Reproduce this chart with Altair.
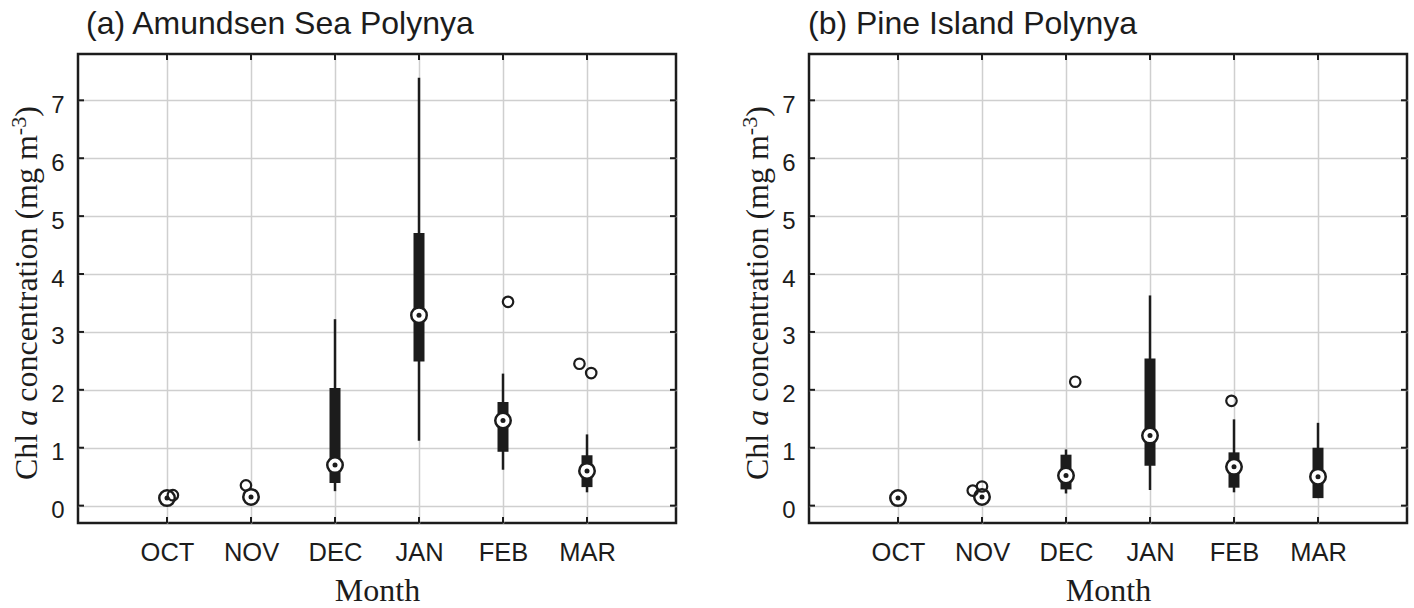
import altair as alt
import pandas as pd

months = ["OCT", "NOV", "DEC", "JAN", "FEB", "MAR"]

# (a) Amundsen Sea Polynya - whisker ends, quartiles and medians (mg m-3)
asp_low = [0.10, 0.11, 0.25, 1.12, 0.62, 0.23]
asp_q1 = [0.11, 0.13, 0.39, 2.49, 0.93, 0.32]
asp_median = [0.13, 0.15, 0.70, 3.29, 1.47, 0.60]
asp_q3 = [0.15, 0.17, 2.03, 4.71, 1.79, 0.87]
asp_high = [0.16, 0.19, 3.22, 7.39, 2.28, 1.23]
asp_out_month = ["OCT", "NOV", "FEB", "MAR", "MAR"]
asp_out_value = [0.18, 0.35, 3.52, 2.45, 2.29]
asp_out_jitter = [0.07, -0.06, 0.06, -0.09, 0.05]

# (b) Pine Island Polynya
pip_low = [0.10, 0.11, 0.21, 0.27, 0.23, 0.13]
pip_q1 = [0.11, 0.12, 0.28, 0.69, 0.31, 0.13]
pip_median = [0.13, 0.15, 0.52, 1.21, 0.67, 0.50]
pip_q3 = [0.15, 0.17, 0.88, 2.54, 0.92, 1.00]
pip_high = [0.16, 0.19, 0.97, 3.63, 1.49, 1.43]
pip_out_month = ["NOV", "NOV", "DEC", "FEB"]
pip_out_value = [0.26, 0.33, 2.14, 1.81]
pip_out_jitter = [-0.11, 0.0, 0.11, -0.03]

y_ticks = [0, 1, 2, 3, 4, 5, 6, 7]

W, H = 598, 469
INK = "#1c1c1c"
GRID = "#cfcfcf"
SANS = "Liberation Sans"
SERIF = "Liberation Serif"

# advance widths of Liberation Serif (per 1000 em), used to chain the y-title pieces
SERIF_W = {"C": 667, "h": 500, "l": 278, " ": 250, "a": 444, "c": 444, "o": 500,
           "n": 500, "e": 444, "t": 278, "r": 333, "i": 278, "(": 333, "m": 778,
           "g": 500, "-": 333, "3": 500, ")": 333}
ITALIC_A = 500

label_expr = "[''," + ",".join(f"'{m}'" for m in months) + "][datum.value]"

x_scale = alt.Scale(domain=[0, 7], nice=False, zero=False)
y_scale = alt.Scale(domain=[-0.3, 7.8], nice=False, zero=False)

x_axis = alt.Axis(values=list(range(1, 7)), labelExpr=label_expr, title="Month",
                  grid=True, gridColor=GRID, gridWidth=1.5, ticks=False, domain=False,
                  labelFont=SANS, labelFontSize=25.5, labelColor=INK, labelPadding=17,
                  titleFont=SERIF, titleFontSize=32, titleFontWeight="normal",
                  titleColor=INK, titlePadding=10)
y_axis = alt.Axis(values=y_ticks, format="d", title=None, grid=True, gridColor=GRID,
                  gridWidth=1.5, ticks=False, domain=False, labelFont=SANS,
                  labelFontSize=24, labelColor=INK, labelPadding=14, labelOffset=5)


def xq(field):
    return alt.X(field, type="quantitative", scale=x_scale, axis=x_axis)


def yq(field):
    return alt.Y(field, type="quantitative", scale=y_scale, axis=y_axis)


def serif_width(s, size, italic=False):
    if italic:
        return ITALIC_A * size / 1000
    return sum(SERIF_W[c] for c in s) * size / 1000


def y_title_layers():
    # "Chl a concentration (mg m-3)" with an italic a and a raised -3,
    # read bottom to top; spaces only advance the pen
    pieces = [("Chl ", 32, False, 0), ("a", 32, True, 0),
              (" concentration (mg m", 32, False, 0), ("-3", 22, False, 11),
              (")", 32, False, 0)]
    base_x = -41.5
    one = pd.DataFrame({"k": [0]})
    layers = []
    pos = 426.0
    for text, size, italic, rise in pieces:
        lead = len(text) - len(text.lstrip(" "))
        shown = text.strip(" ")
        y = pos - serif_width(" " * lead, size)
        layers.append(
            alt.Chart(one).mark_text(
                text=shown, angle=270, align="left", baseline="alphabetic",
                font=SERIF, fontSize=size, fontStyle="italic" if italic else "normal",
                color=INK,
            ).encode(x=alt.value(base_x - rise), y=alt.value(y))
        )
        pos -= serif_width(text, size, italic)
    return layers


def panel(title, title_dx, low, q1, med, q3, high, out_m, out_v, out_j):
    stats = pd.DataFrame({
        "month": months, "x": list(range(1, 7)),
        "low": low, "q1": q1, "median": med, "q3": q3, "high": high,
    })
    outl = pd.DataFrame({"month": out_m, "value": out_v, "jitter": out_j})
    outl["x"] = [months.index(m) + 1 + j for m, j in zip(out_m, out_j)]
    ticks = pd.DataFrame({"v": y_ticks})

    base = alt.Chart(stats)
    whisker = base.mark_rule(color=INK, strokeWidth=2.5).encode(
        x=xq("x"), y=yq("low"), y2="high")
    box = base.mark_bar(color=INK, size=11).encode(x=xq("x"), y=yq("q1"), y2="q3")
    ring = base.mark_point(shape="circle", filled=True, fill="white", stroke=INK,
                           strokeWidth=2.5, size=240, opacity=1).encode(
        x=xq("x"), y=yq("median"))
    dot = base.mark_circle(color=INK, size=25, opacity=1).encode(
        x=xq("x"), y=yq("median"))
    outliers = alt.Chart(outl).mark_point(shape="circle", filled=False, stroke=INK,
                                          strokeWidth=2.2, size=110, opacity=1).encode(
        x=xq("x"), y=yq("value"))

    # inward tick marks on all four sides of the box
    top_t = base.mark_rule(color=INK, strokeWidth=2).encode(
        x=xq("x"), y=alt.value(0), y2=alt.value(6))
    bot_t = base.mark_rule(color=INK, strokeWidth=2).encode(
        x=xq("x"), y=alt.value(H - 6), y2=alt.value(H))
    tk = alt.Chart(ticks)
    left_t = tk.mark_rule(color=INK, strokeWidth=2).encode(
        y=yq("v"), x=alt.value(0), x2=alt.value(6))
    right_t = tk.mark_rule(color=INK, strokeWidth=2).encode(
        y=yq("v"), x=alt.value(W - 6), x2=alt.value(W))

    return alt.layer(
        whisker, box, ring, dot, outliers, top_t, bot_t, left_t, right_t,
        *y_title_layers(),
    ).properties(
        width=W, height=H,
        title=alt.TitleParams(title, anchor="start", frame="group", dx=title_dx,
                              font=SANS, fontSize=32, fontWeight="normal",
                              color=INK, baseline="bottom", offset=-20),
    )


pa = panel("(a) Amundsen Sea Polynya", 8, asp_low, asp_q1, asp_median, asp_q3,
           asp_high, asp_out_month, asp_out_value, asp_out_jitter)
pb = panel("(b) Pine Island Polynya", -1, pip_low, pip_q1, pip_median, pip_q3,
           pip_high, pip_out_month, pip_out_value, pip_out_jitter)

chart = alt.hconcat(pa, pb, spacing=58).properties(
    padding={"left": 6, "top": 6, "right": 0, "bottom": 0},
    background="white",
).configure_view(stroke=INK, strokeWidth=2.5)

chart.save("out.html", embed_options={"renderer": "svg", "actions": False})
